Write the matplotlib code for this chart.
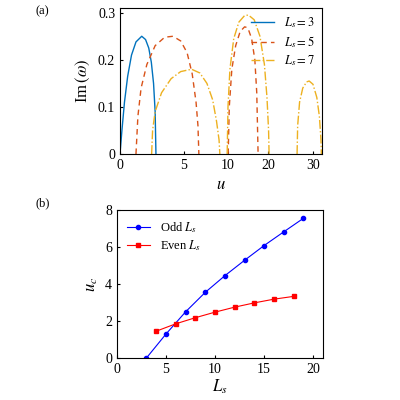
import matplotlib
matplotlib.use("Agg")
import matplotlib.pyplot as plt

plt.rcParams['font.family'] = ['Liberation Serif', 'DejaVu Serif']
plt.rcParams['mathtext.fontset'] = 'stix'

# Top panel: axis uses a nonuniform u scale; ticks placed at these positions
u_tick_pos = [0, 1.0, 1.6875, 2.3229, 3.0208]
u_tick_lab = ['0', '5', '10', '20', '30']

b3_t = [0, 0.03, 0.07, 0.12, 0.18, 0.25, 0.34, 0.40, 0.45, 0.49, 0.525, 0.55, 0.5625]
b3_y = [0, 0.05, 0.11, 0.165, 0.21, 0.238, 0.25, 0.243, 0.225, 0.195, 0.15, 0.09, 0]
r5a_t = [0.25, 0.28, 0.33, 0.42, 0.55, 0.70, 0.83, 0.95, 1.05, 1.13, 1.19, 1.22, 1.234]
r5a_y = [0, 0.08, 0.14, 0.19, 0.23, 0.248, 0.25, 0.24, 0.215, 0.17, 0.11, 0.06, 0]
r5b_t = [1.693, 1.71, 1.75, 1.81, 1.88, 1.95, 2.0, 2.06, 2.11, 2.14, 2.161]
r5b_y = [0, 0.10, 0.18, 0.23, 0.26, 0.27, 0.268, 0.245, 0.20, 0.13, 0]
y7a_t = [0.495, 0.51, 0.55, 0.65, 0.8, 0.95, 1.12, 1.25, 1.36, 1.45, 1.51, 1.55, 1.5625]
y7a_y = [0, 0.05, 0.09, 0.13, 0.16, 0.175, 0.18, 0.172, 0.15, 0.115, 0.07, 0.03, 0]
y7b_t = [1.677, 1.69, 1.72, 1.78, 1.86, 1.95, 2.01, 2.1, 2.19, 2.26, 2.30, 2.325, 2.333]
y7b_y = [0, 0.10, 0.18, 0.245, 0.28, 0.294, 0.295, 0.285, 0.25, 0.19, 0.12, 0.05, 0]
y7c_t = [2.771, 2.78, 2.81, 2.86, 2.92, 2.96, 3.02, 3.08, 3.12, 3.145, 3.151]
y7c_y = [0, 0.06, 0.11, 0.14, 0.153, 0.155, 0.148, 0.12, 0.08, 0.03, 0]

# Bottom panel
Ls_odd = [3, 5, 7, 9, 11, 13, 15, 17, 19]
uc_odd = [0, 1.3, 2.5, 3.55, 4.45, 5.28, 6.08, 6.82, 7.55]
Ls_even = [4, 6, 8, 10, 12, 14, 16, 18]
uc_even = [1.45, 1.85, 2.18, 2.48, 2.75, 2.98, 3.18, 3.33]

cb, cr, cy = '#0072BD', '#D95319', '#EDB120'

fig = plt.figure(figsize=(4, 4), dpi=100)
ax1 = fig.add_axes([0.30, 0.615, 0.505, 0.365])
ax1.plot(b3_t, b3_y, color=cb, lw=1.0, label=r'$L_s = 3$')
ax1.plot(r5a_t, r5a_y, color=cr, lw=1.0, ls=(0, (4, 3)), label=r'$L_s = 5$')
ax1.plot(r5b_t, r5b_y, color=cr, lw=1.0, ls=(0, (4, 3)))
ax1.plot(y7a_t, y7a_y, color=cy, lw=1.0, ls='-.', label=r'$L_s = 7$')
ax1.plot(y7b_t, y7b_y, color=cy, lw=1.0, ls='-.')
ax1.plot(y7c_t, y7c_y, color=cy, lw=1.0, ls='-.')
ax1.set_xlim(0, 3.161)
ax1.set_ylim(0, 0.31)
ax1.set_xticks(u_tick_pos)
ax1.set_xticklabels(u_tick_lab)
ax1.set_yticks([0, 0.1, 0.2, 0.3])
ax1.set_yticklabels(['0', '0.1', '0.2', '0.3'])
ax1.set_xlabel(r'$u$', fontsize=12)
ax1.set_ylabel(r'Im$\,(\omega)$', fontsize=12)
ax1.tick_params(direction='in', labelsize=10, length=2.5)
ax1.legend(loc='upper right', frameon=False, fontsize=9, handlelength=1.8,
           borderaxespad=0.2, labelspacing=0.3)
fig.text(0.09, 0.965, '(a)', fontsize=9)

ax2 = fig.add_axes([0.2925, 0.105, 0.515, 0.37])
ax2.plot(Ls_odd, uc_odd, color='blue', lw=0.8, marker='o', ms=3, label=r'Odd $L_s$')
ax2.plot(Ls_even, uc_even, color='red', lw=0.8, marker='s', ms=2.5, label=r'Even $L_s$')
ax2.set_xlim(0, 21)
ax2.set_ylim(0, 8)
ax2.set_xticks([0, 5, 10, 15, 20])
ax2.set_yticks([0, 2, 4, 6, 8])
ax2.set_xlabel(r'$L_s$', fontsize=12, labelpad=1)
ax2.set_ylabel(r'$u_c$', fontsize=12)
ax2.tick_params(direction='in', labelsize=10, length=2.5)
ax2.legend(loc='upper left', frameon=False, fontsize=9, handlelength=1.8,
           borderaxespad=0.4, labelspacing=0.3)
fig.text(0.09, 0.485, '(b)', fontsize=9)

fig.savefig('out.png', dpi=100)
